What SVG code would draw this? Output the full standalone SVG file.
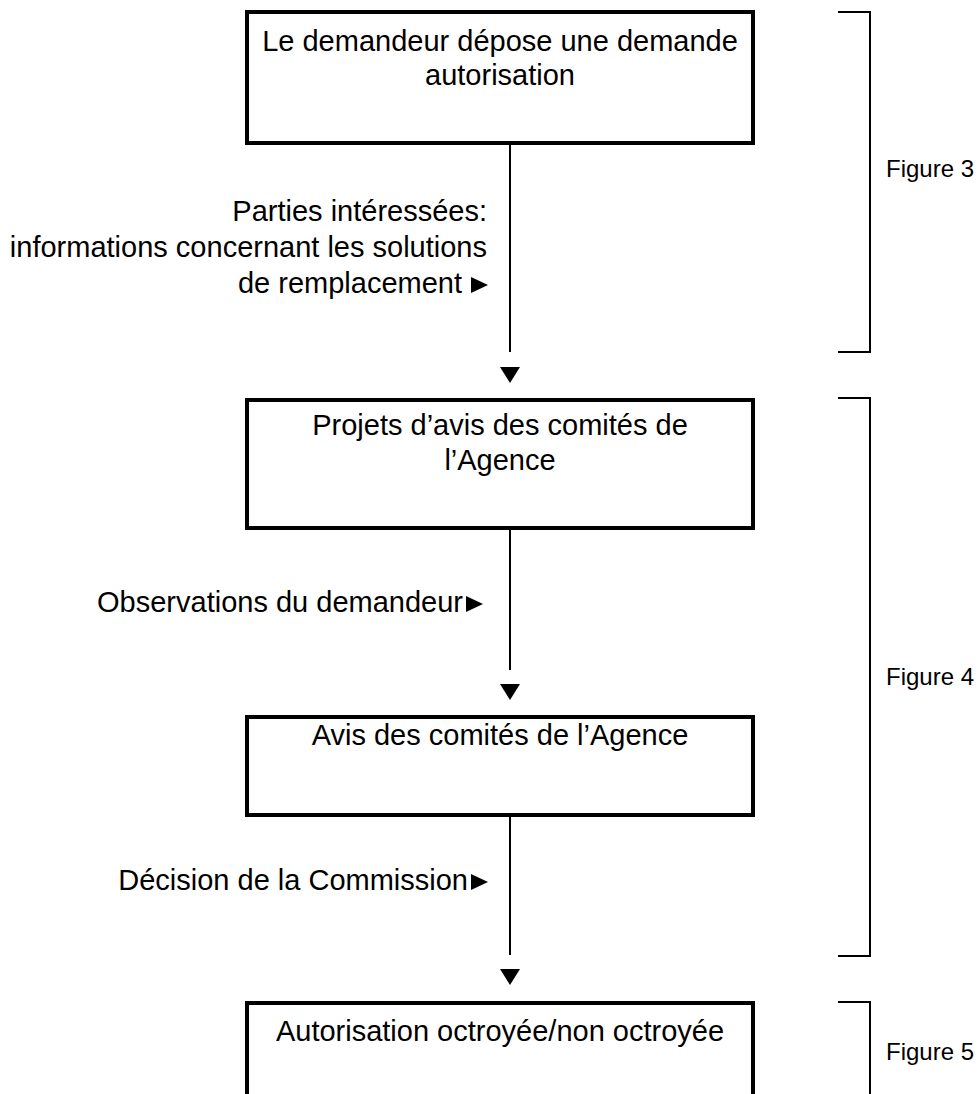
<svg xmlns="http://www.w3.org/2000/svg" width="978" height="1094" viewBox="0 0 978 1094">
  <style>
    .box { fill: #ffffff; stroke: #000000; stroke-width: 4; }
    .t { font-family: "Liberation Sans", Arial, sans-serif; font-size: 29px; fill: #000000; }
    .c { text-anchor: middle; }
    .r { text-anchor: end; }
    .fig { font-family: "Liberation Sans", Arial, sans-serif; font-size: 24px; fill: #000000; }
    .line { stroke: #000000; stroke-width: 2; fill: none; }
    .head { fill: #000000; }
  </style>
  <rect width="978" height="1094" fill="#ffffff"/>

  <!-- process steps -->
  <g id="step-demande">
    <rect class="box" x="247" y="12" width="506" height="131"/>
    <text class="t c" x="500" y="51">Le demandeur dépose une demande</text>
    <text class="t c" x="500" y="85">autorisation</text>
  </g>
  <g id="step-projets-avis">
    <rect class="box" x="247" y="400" width="506" height="128"/>
    <text class="t c" x="500" y="435">Projets d’avis des comités de</text>
    <text class="t c" x="500" y="470">l’Agence</text>
  </g>
  <g id="step-avis">
    <rect class="box" x="247" y="717" width="506" height="98"/>
    <text class="t c" x="500" y="745">Avis des comités de l’Agence</text>
  </g>
  <g id="step-autorisation">
    <rect class="box" x="247" y="1003" width="506" height="200"/>
    <text class="t c" x="500" y="1041">Autorisation octroyée/non octroyée</text>
  </g>

  <!-- connectors with their inputs -->
  <g id="connectors">
    <line class="line" x1="510" y1="145" x2="510" y2="352"/>
    <polygon class="head" points="500,367 520,367 510,383"/>
    <line class="line" x1="510" y1="530" x2="510" y2="670"/>
    <polygon class="head" points="500,684 520,684 510,700"/>
    <line class="line" x1="510" y1="817" x2="510" y2="955"/>
    <polygon class="head" points="500,969 520,969 510,985"/>
  </g>

  <g id="input-parties">
    <text class="t r" x="487" y="221">Parties intéressées:</text>
    <text class="t r" x="487" y="257">informations concernant les solutions</text>
    <text class="t r" x="462" y="293">de remplacement</text>
    <polygon class="head" points="471,277 488,285 471,293"/>
  </g>
  <g id="input-observations">
    <text class="t r" x="463" y="612">Observations du demandeur</text>
    <polygon class="head" points="466,596 483,604 466,612"/>
  </g>
  <g id="input-decision">
    <text class="t r" x="468" y="890">Décision de la Commission</text>
    <polygon class="head" points="471,874 488,882 471,890"/>
  </g>

  <!-- phase brackets -->
  <g id="bracket-fig3">
    <path class="line" d="M838 12 H870 V352 H838"/>
    <text class="fig" x="886" y="177">Figure 3</text>
  </g>
  <g id="bracket-fig4">
    <path class="line" d="M838 398 H870 V956 H838"/>
    <text class="fig" x="886" y="685">Figure 4</text>
  </g>
  <g id="bracket-fig5">
    <path class="line" d="M838 1002 H870 V1094"/>
    <text class="fig" x="886" y="1060">Figure 5</text>
  </g>
</svg>
